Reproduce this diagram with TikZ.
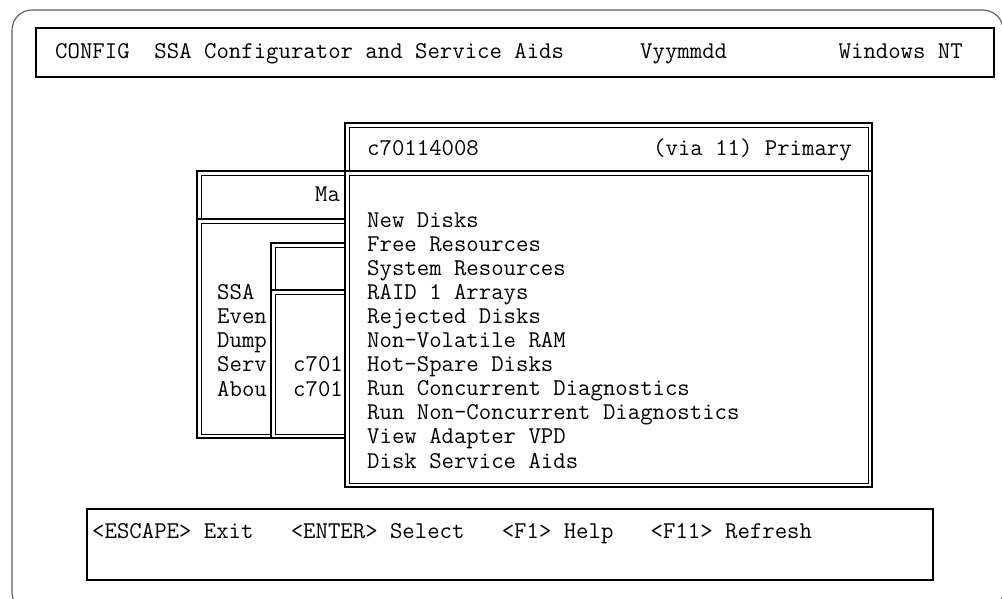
\documentclass[tikz,border=0pt]{standalone}
\usepackage{fontspec}
\begin{document}
\begin{tikzpicture}[x=1pt,y=-1pt,
  scr/.style={anchor=base west, inner sep=0pt, font=\ttfamily\fontsize{24.1}{26}\selectfont},
  scrr/.style={scr, anchor=base east},
  heavyln/.style={line width=2pt, draw=black},
  lightln/.style={line width=0.9pt, draw=black},
  frameln/.style={line width=1.1pt, draw=black!65}]
\newcommand{\tuiwin}[5]{%
  \fill[white] (#1,#2) rectangle (#4,#5);
  \draw[heavyln] (#1,#2) rectangle (#4,#5);
  \draw[lightln] (#1+4,#2+4) rectangle (#4-4,#3);
  \draw[heavyln] (#1,#3) -- (#4,#3);
  \draw[lightln] (#1+4,#3+4) rectangle (#4-4,#5-4);}
\useasboundingbox (0,0) rectangle (1002,599);
\clip (0,0) rectangle (1002,599);

% outer screen frame
\draw[frameln, rounded corners=20pt] (12,10) rectangle (1003,612);

% header bar
\draw[heavyln] (36,28) rectangle (994,77);
\node[scr] (hdrA) at (55,59) {CONFIG~~SSA Configurator and Service Aids};
\node[scr] (hdrB) at (640,59) {Vyymmdd};
\node[scrr] (hdrC) at (963,59) {Windows NT};

% main menu window (background)
\tuiwin{197}{171}{219}{400}{438}
\node[scr] (mainT) at (315,202) {Ma};
\node[scr] (mi1) at (217,299) {SSA};
\node[scr] (mi2) at (217,323) {Even};
\node[scr] (mi3) at (217,347) {Dump};
\node[scr] (mi4) at (217,371) {Serv};
\node[scr] (mi5) at (217,396) {Abou};

% second window (background)
\tuiwin{271}{243}{290}{400}{438}
\node[scr] (si1) at (293,371) {c701};
\node[scr] (si2) at (293,396) {c701};

% adapter menu window (front)
\tuiwin{345}{123}{171}{872}{487}
\node[scr] (adT) at (367,156) {c70114008};
\node[scrr] (adV) at (852,156) {(via 11) Primary};
\foreach \txt [count=\i from 0] in {New Disks, Free Resources, System Resources,
    RAID 1 Arrays, Rejected Disks, Non-Volatile RAM, Hot-Spare Disks,
    Run Concurrent Diagnostics, Run Non-Concurrent Diagnostics,
    View Adapter VPD, Disk Service Aids}
  \node[scr] (ad\i) at (367,227+24.1*\i) {\txt};

% key help bar
\draw[heavyln] (87,509) rectangle (933,580);
\node[scr] (keys) at (92,538) {<ESCAPE> Exit~~~<ENTER> Select~~~<F1> Help~~~<F11> Refresh};
\end{tikzpicture}
\end{document}
